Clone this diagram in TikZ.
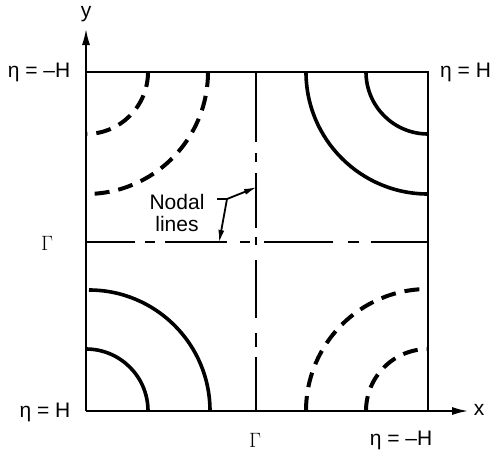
\documentclass[tikz,border=0pt]{standalone}
\usepackage{fontspec}
\setmainfont{Liberation Sans}
\usetikzlibrary{arrows.meta}
\begin{document}
\begin{tikzpicture}[x=1pt,y=-1pt,
  lbl/.style={font=\fontsize{21}{24}\selectfont, inner sep=0pt},
  frame/.style={line width=2.6pt},
  solidarc/.style={line width=3.6pt},
  dasharc/.style={line width=4pt, dash pattern=on 15pt off 9pt},
  nodal/.style={line width=2.4pt},
  axisarrow/.style={line width=2.4pt, -{Latex[length=17pt,width=8pt]}},
  leader/.style={line width=1.8pt, -{Latex[length=13pt,width=6pt]}}]
\useasboundingbox (0,0) rectangle (490,453);
% corners
\coordinate (O) at (86,411);
\coordinate (TL) at (86,72);
\coordinate (TR) at (428,72);
\coordinate (BR) at (428,411);
\coordinate (ytip) at (86,28);
\coordinate (xtip) at (469,411);
% frame
\draw[frame] (TL) -- (TR) -- (BR);
\draw[axisarrow] (O) -- (ytip);
\draw[axisarrow] (O) -- (xtip);
% nodal lines
\coordinate (vt) at (256,72);
\coordinate (vb) at (256,411);
\coordinate (hl) at (86,242);
\coordinate (hm) at (256,242);
\coordinate (hr) at (428,242);
\draw[nodal, dash pattern=on 70pt off 11pt on 9pt off 11pt on 55pt off 9pt on 8pt off 15pt on 58pt off 15pt on 14pt off 10pt on 60pt] (vt) -- (vb);
\draw[nodal, dash pattern=on 49pt off 10pt on 10pt off 10pt on 62pt off 13pt on 10pt off 20pt] (hl) -- (hm);
\draw[nodal, dash pattern=on 57pt off 12pt on 11pt off 15pt on 69pt off 20pt] (hr) -- (hm);
% top-left dashed arcs
\draw[dasharc] (148,72) arc[start angle=0, end angle=90, radius=62];
\draw[dasharc] (208,72) arc[start angle=0, end angle=90, radius=122];
% top-right solid arcs
\draw[solidarc] (366,72) arc[start angle=180, end angle=90, radius=62];
\draw[solidarc] (306,72) arc[start angle=180, end angle=90, radius=122];
% bottom-left solid arcs
\draw[solidarc] (148,411) arc[start angle=0, end angle=-90, radius=62];
\draw[solidarc] (210,411) arc[start angle=0, end angle=-90, radius=121];
% bottom-right dashed arcs
\draw[dasharc] (366,411) arc[start angle=180, end angle=270, radius=62];
\draw[dasharc] (306,411) arc[start angle=180, end angle=270, radius=122];
% labels
\node[lbl] (ylab) at (86,14) {y};
\node[lbl] (xlab) at (479,410) {x};
\node[lbl] (tl) at (39,72) {η = –H};
\node[lbl, anchor=west] (tr) at (440,72) {η = H};
\node[lbl] (gl) at (47,243) {$\Gamma$};
\node[lbl] (bl) at (45,412) {η = H};
\node[lbl] (gb) at (255,440) {$\Gamma$};
\node[lbl] (br) at (401,440) {η = –H};
\node[lbl, align=center] (nod) at (177,213) {Nodal\\[-2pt]lines};
% leader arrows
\coordinate (t0) at (217,199);
\coordinate (t1) at (227,199);
\coordinate (a1) at (257,187);
\coordinate (a2) at (219,243);
\draw[line width=1.8pt] (t0) -- (t1);
\draw[leader] (t1) -- (a1);
\draw[leader] (t1) -- (a2);
\end{tikzpicture}
\end{document}
